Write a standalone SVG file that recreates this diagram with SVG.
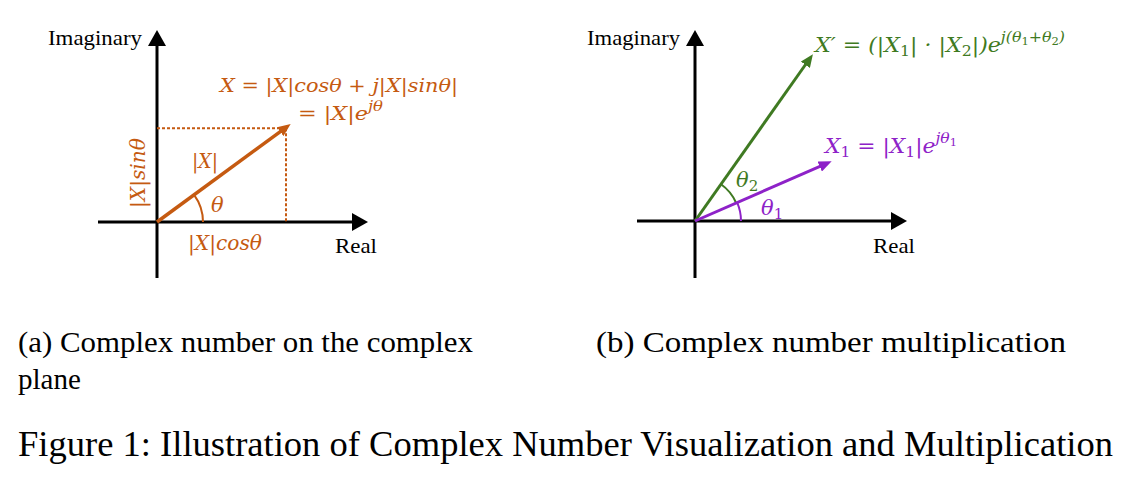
<svg xmlns="http://www.w3.org/2000/svg" width="1136" height="480" viewBox="0 0 1136 480">
<style>
.axis{stroke:#000;stroke-width:3;fill:none}
.lbl{font-family:"Liberation Serif","Times New Roman",serif;font-size:22px;fill:#000}
.cap{font-family:"Liberation Serif","Times New Roman",serif;font-size:29px;fill:#000}
.fig{font-family:"Liberation Serif","Times New Roman",serif;font-size:35px;fill:#000}
.math{font-family:"DejaVu Serif","Liberation Serif",serif;font-style:italic;font-size:19px}
.mb{font-size:21px}
.or{fill:#C55A11}
.gr{fill:#3F7A22}
.pu{fill:#8E22C8}
</style>
<defs>
<marker id="ah" viewBox="0 0 16 18" refX="6" refY="9" markerWidth="16" markerHeight="18" markerUnits="userSpaceOnUse" orient="auto"><path d="M0,0 L16,9 L0,18 z" fill="#000"/></marker>
<marker id="aho" viewBox="0 0 13 11" refX="4" refY="5.5" markerWidth="13" markerHeight="11" markerUnits="userSpaceOnUse" orient="auto"><path d="M0,0 L13,5.5 L0,11 z" fill="#C55A11"/></marker>
<marker id="ahg" viewBox="0 0 13 11" refX="4" refY="5.5" markerWidth="13" markerHeight="11" markerUnits="userSpaceOnUse" orient="auto"><path d="M0,0 L13,5.5 L0,11 z" fill="#3F7A22"/></marker>
<marker id="ahp" viewBox="0 0 13 11" refX="4" refY="5.5" markerWidth="13" markerHeight="11" markerUnits="userSpaceOnUse" orient="auto"><path d="M0,0 L13,5.5 L0,11 z" fill="#8E22C8"/></marker>
</defs>

<g id="panel-a">
  <g id="axes-a">
    <line class="axis" x1="157" y1="278" x2="157" y2="40" marker-end="url(#ah)"/>
    <line class="axis" x1="98" y1="222" x2="358" y2="222" marker-end="url(#ah)"/>
    <text class="lbl" x="48" y="45" textLength="94" lengthAdjust="spacingAndGlyphs">Imaginary</text>
    <text class="lbl" x="335" y="253" textLength="42" lengthAdjust="spacingAndGlyphs">Real</text>
  </g>
  <g id="vector-a">
    <line x1="157" y1="128.3" x2="286" y2="128.3" stroke="#C55A11" stroke-width="2" stroke-dasharray="3,2"/>
    <line x1="286" y1="128.3" x2="286" y2="222" stroke="#C55A11" stroke-width="2" stroke-dasharray="3,2"/>
    <line x1="157" y1="222" x2="283.4" y2="129.3" stroke="#C55A11" stroke-width="3.5" marker-end="url(#aho)"/>
    <path d="M203,222 A46,46 0 0 0 194.1,194.8" fill="none" stroke="#C55A11" stroke-width="2"/>
    <text class="math or" x="220" y="92" textLength="238" lengthAdjust="spacingAndGlyphs">X = |X|cosθ + j|X|sinθ|</text>
    <text class="math or" x="298" y="120" textLength="85" lengthAdjust="spacingAndGlyphs">= |X|e<tspan dy="-9" font-size="14">jθ</tspan></text>
    <text class="math or mb" x="192" y="168" textLength="26" lengthAdjust="spacingAndGlyphs">|X|</text>
    <text class="math or mb" x="211" y="212">θ</text>
    <text class="math or mb" x="188" y="250" textLength="74" lengthAdjust="spacingAndGlyphs">|X|cosθ</text>
    <text class="math or mb" transform="translate(145,173) rotate(-90)" text-anchor="middle" textLength="70" lengthAdjust="spacingAndGlyphs">|X|sinθ</text>
  </g>
</g>

<g id="panel-b">
  <g id="axes-b">
    <line class="axis" x1="695" y1="278" x2="695" y2="40" marker-end="url(#ah)"/>
    <line class="axis" x1="637" y1="221" x2="897" y2="221" marker-end="url(#ah)"/>
    <text class="lbl" x="587" y="45" textLength="93" lengthAdjust="spacingAndGlyphs">Imaginary</text>
    <text class="lbl" x="873" y="253" textLength="42" lengthAdjust="spacingAndGlyphs">Real</text>
  </g>
  <g id="vector-xprime">
    <line x1="695" y1="221" x2="807.7" y2="61.5" stroke="#3F7A22" stroke-width="3" marker-end="url(#ahg)"/>
    <path d="M736.2,203 A45,45 0 0 0 721,184.3" fill="none" stroke="#3F7A22" stroke-width="2"/>
    <text class="math gr mb" x="736" y="187">θ<tspan dy="4" font-size="15" font-style="normal">2</tspan></text>
    <text class="math gr mb" x="815" y="52" textLength="250" lengthAdjust="spacingAndGlyphs">X′ = (|X<tspan dy="4" font-size="15" font-style="normal">1</tspan><tspan dy="-4">| · |X</tspan><tspan dy="4" font-size="15" font-style="normal">2</tspan><tspan dy="-4">|)e</tspan><tspan dy="-10" font-size="15">j(θ</tspan><tspan dy="3" font-size="11" font-style="normal">1</tspan><tspan dy="-3" font-size="15">+θ</tspan><tspan dy="3" font-size="11" font-style="normal">2</tspan><tspan dy="-3" font-size="15">)</tspan></text>
  </g>
  <g id="vector-x1">
    <line x1="695" y1="221" x2="823.4" y2="164.9" stroke="#8E22C8" stroke-width="3" marker-end="url(#ahp)"/>
    <path d="M741,221 A46,46 0 0 0 737.2,202.6" fill="none" stroke="#8E22C8" stroke-width="2"/>
    <text class="math pu mb" x="761" y="215">θ<tspan dy="4" font-size="15" font-style="normal">1</tspan></text>
    <text class="math pu mb" x="825" y="153" textLength="132" lengthAdjust="spacingAndGlyphs">X<tspan dy="4" font-size="15" font-style="normal">1</tspan><tspan dy="-4"> = |X</tspan><tspan dy="4" font-size="15" font-style="normal">1</tspan><tspan dy="-4">|e</tspan><tspan dy="-10" font-size="15">jθ</tspan><tspan dy="3" font-size="11" font-style="normal">1</tspan></text>
  </g>
</g>

<g id="captions">
  <text class="cap" x="18" y="352" textLength="455" lengthAdjust="spacingAndGlyphs">(a) Complex number on the complex</text>
  <text class="cap" x="18" y="389">plane</text>
  <text class="cap" x="596" y="352" textLength="470" lengthAdjust="spacingAndGlyphs">(b) Complex number multiplication</text>
  <text class="fig" x="18" y="456" textLength="1095" lengthAdjust="spacingAndGlyphs">Figure 1: Illustration of Complex Number Visualization and Multiplication</text>
</g>
</svg>
